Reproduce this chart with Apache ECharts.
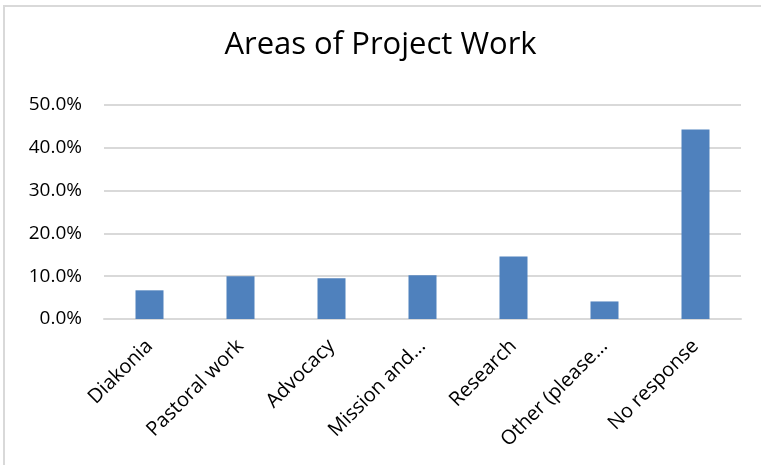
<!DOCTYPE html>
<html>
<head>
<meta charset="utf-8">
<script src="https://cdn.jsdelivr.net/npm/echarts@6/dist/echarts.min.js"></script>
<style>
  html, body { margin: 0; padding: 0; background: #fff; }
  #chart { width: 761px; height: 465px; }
</style>
</head>
<body>
<div id="chart"></div>
<script>
// 数据
const categories = ['Diakonia', 'Pastoral work', 'Advocacy', 'Mission and...', 'Research', 'Other (please...', 'No response'];
const shares = [6.7, 10.0, 9.5, 10.2, 14.6, 4.1, 44.3];
const yTicks = [0, 10, 20, 30, 40, 50];

const chart = echarts.init(document.getElementById('chart'), null, { renderer: 'canvas' });
const font = '"Open Sans", "Liberation Sans", sans-serif';

chart.setOption({
    animation: false,
    title: {
        text: 'Areas of Project Work',
        left: 'center',
        top: 25,
        textStyle: { fontFamily: font, fontSize: 31, fontWeight: 'normal', color: '#000' }
    },
    // 外框（只露出左边和上边）
    graphic: [{
        type: 'rect',
        shape: { x: 4, y: 6, width: 800, height: 500 },
        style: { fill: null, stroke: '#d9d9d9', lineWidth: 2 },
        silent: true
    }],
    grid: { left: 104, right: 20, top: 105, bottom: 146 },
    xAxis: {
        type: 'category',
        data: categories,
        axisLine: { lineStyle: { color: '#d9d9d9', width: 2 } },
        axisTick: { show: false },
        axisLabel: {
            rotate: 45,
            interval: 0,
            margin: 24,
            fontFamily: font,
            fontSize: 20,
            color: '#000'
        }
    },
    yAxis: {
        type: 'value',
        min: yTicks[0],
        max: yTicks[yTicks.length - 1],
        interval: 10,
        axisLine: { show: false },
        axisTick: { show: false },
        splitLine: { lineStyle: { color: '#d9d9d9', width: 2 } },
        axisLabel: {
            margin: 22,
            fontFamily: font,
            fontSize: 19,
            color: '#000',
            formatter: v => v.toFixed(1) + '%'
        }
    },
    series: [{
        type: 'bar',
        data: shares,
        barWidth: 28,
        itemStyle: { color: '#4f81bd' }
    }]
});
</script>
</body>
</html>
